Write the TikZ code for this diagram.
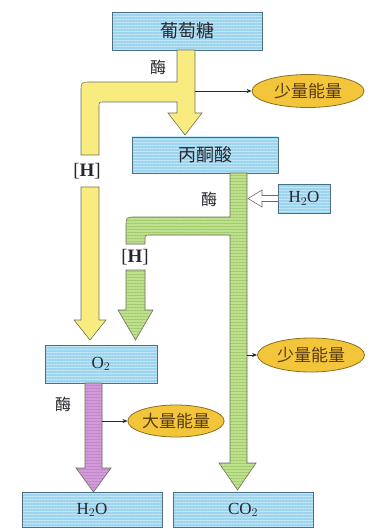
\documentclass[tikz,border=0pt]{standalone}
\usepackage{fontspec}
\setmainfont{Liberation Serif}
\newfontfamily\cjk{Noto Sans CJK SC}
\usetikzlibrary{shapes.geometric,patterns.meta,arrows.meta}
\definecolor{boxfill}{HTML}{9ED5EE}
\definecolor{boxline}{HTML}{4E6E82}
\definecolor{stripe}{HTML}{C6E7F5}
\definecolor{yel}{HTML}{F8EC80}
\definecolor{grn}{HTML}{BFE08C}
\definecolor{grnstripe}{HTML}{9FCB6C}
\definecolor{pur}{HTML}{D39ADA}
\definecolor{purstripe}{HTML}{C286CA}
\definecolor{gold}{HTML}{F2C53A}
\definecolor{goldline}{HTML}{8C6E1E}
\definecolor{arrline}{HTML}{6E6E60}
\definecolor{txt}{HTML}{26262E}
\definecolor{etxt}{HTML}{5A3A12}
\tikzset{
  blockbox/.style={draw=boxline, line width=0.8pt, preaction={fill=boxfill},
    pattern={Lines[distance=3pt,line width=0.6pt]}, pattern color=stripe,
    inner sep=0pt, text=txt},
  cjkbig/.style={font=\cjk\fontsize{18}{18}\selectfont},
  latbig/.style={font=\fontsize{17}{17}\selectfont},
  energy/.style={ellipse, draw=goldline, line width=0.8pt, fill=gold, inner sep=0pt,
    text=etxt, font=\cjk\fontsize{17}{17}\selectfont},
  enz/.style={text=txt, font=\cjk\fontsize{16}{16}\selectfont},
  hlabel/.style={text=txt, font=\fontsize{19}{19}\selectfont, inner sep=0pt},
  yelarrow/.style={fill=yel, draw=arrline, line width=0.6pt},
  grnarrow/.style={draw=arrline, line width=0.6pt, preaction={fill=grn},
    pattern={Lines[distance=3pt,line width=0.5pt]}, pattern color=grnstripe},
  purarrow/.style={draw=arrline, line width=0.6pt, preaction={fill=pur},
    pattern={Lines[distance=3pt,line width=0.4pt]}, pattern color=purstripe},
  thinarrow/.style={draw=txt, line width=0.6pt, -{Stealth[length=5pt,width=4pt]}},
  hollow/.style={fill=white, draw=arrline, line width=0.6pt}
}
\begin{document}
\begin{tikzpicture}[x=1pt,y=-1pt]
\useasboundingbox (0,0) rectangle (371,529);
% boxes
\node[blockbox, cjkbig, minimum width=150pt, minimum height=38pt] (glu) at (187,31) {葡萄糖};
\node[blockbox, cjkbig, minimum width=146pt, minimum height=36pt] (pyr) at (205,155) {丙酮酸};
\node[blockbox, latbig, minimum width=52pt, minimum height=29pt] (h2oin) at (304,198.5) {H$_2$O};
\node[blockbox, latbig, minimum width=112pt, minimum height=38pt] (o2) at (101,364) {O$_2$};
\node[blockbox, latbig, minimum width=140pt, minimum height=35pt] (h2o) at (92,510) {H$_2$O};
\node[blockbox, latbig, minimum width=140pt, minimum height=35pt] (co2) at (243,510) {CO$_2$};
% yellow arrows
\draw[yelarrow] (177,50) -- (177,82) -- (91,82) .. controls (81,82) .. (81,92) -- (81,155) -- (99,155) -- (99,107) .. controls (99,102) .. (104,102) -- (177,102) -- (177,113) -- (168,113) -- (185,135) -- (202,113) -- (195,113) -- (195,50) -- cycle;
\draw[yelarrow] (81,187) -- (81,320) -- (74,320) -- (90,340) -- (106,320) -- (99,320) -- (99,187) -- cycle;
% green arrows
\draw[grnarrow] (230,173) -- (230,217) -- (136,217) .. controls (126,217) .. (126,227) -- (126,244) -- (145,244) -- (145,240) .. controls (145,235) .. (150,235) -- (230,235) -- (230,463) -- (219,463) -- (237.5,490) -- (256,463) -- (247,463) -- (247,173) -- cycle;
\draw[grnarrow] (126,270) -- (126,310) -- (118,310) -- (135.5,340) -- (153,310) -- (145,310) -- (145,270) -- cycle;
% purple arrow
\draw[purarrow] (85,383) -- (85,468) -- (76,468) -- (93.5,492) -- (111,468) -- (102,468) -- (102,383) -- cycle;
% hollow arrow from water
\draw[hollow] (278,195.5) -- (262,195.5) -- (262,190) -- (248,198.5) -- (262,207) -- (262,201.5) -- (278,201.5);
% energy ellipses
\node[energy, minimum width=112pt, minimum height=33pt] (e1) at (308,91) {少量能量};
\node[energy, minimum width=107pt, minimum height=34pt] (e2) at (311,355) {少量能量};
\node[energy, minimum width=95pt, minimum height=32pt] (e3) at (176,421) {大量能量};
\coordinate (s1) at (195,91);
\coordinate (s2) at (247,355);
\coordinate (s3) at (102,421);
\draw[thinarrow] (s1) -- (e1.west);
\draw[thinarrow] (s2) -- (e2.west);
\draw[thinarrow] (s3) -- (e3.west);
% labels
\node[enz] (m1) at (158,67) {酶};
\node[enz] (m2) at (209,199) {酶};
\node[enz] (m3) at (63,404) {酶};
\node[hlabel] (h1) at (87,171) {[\textbf{H}]};
\node[hlabel] (h2) at (135,257) {[\textbf{H}]};
\end{tikzpicture}
\end{document}
